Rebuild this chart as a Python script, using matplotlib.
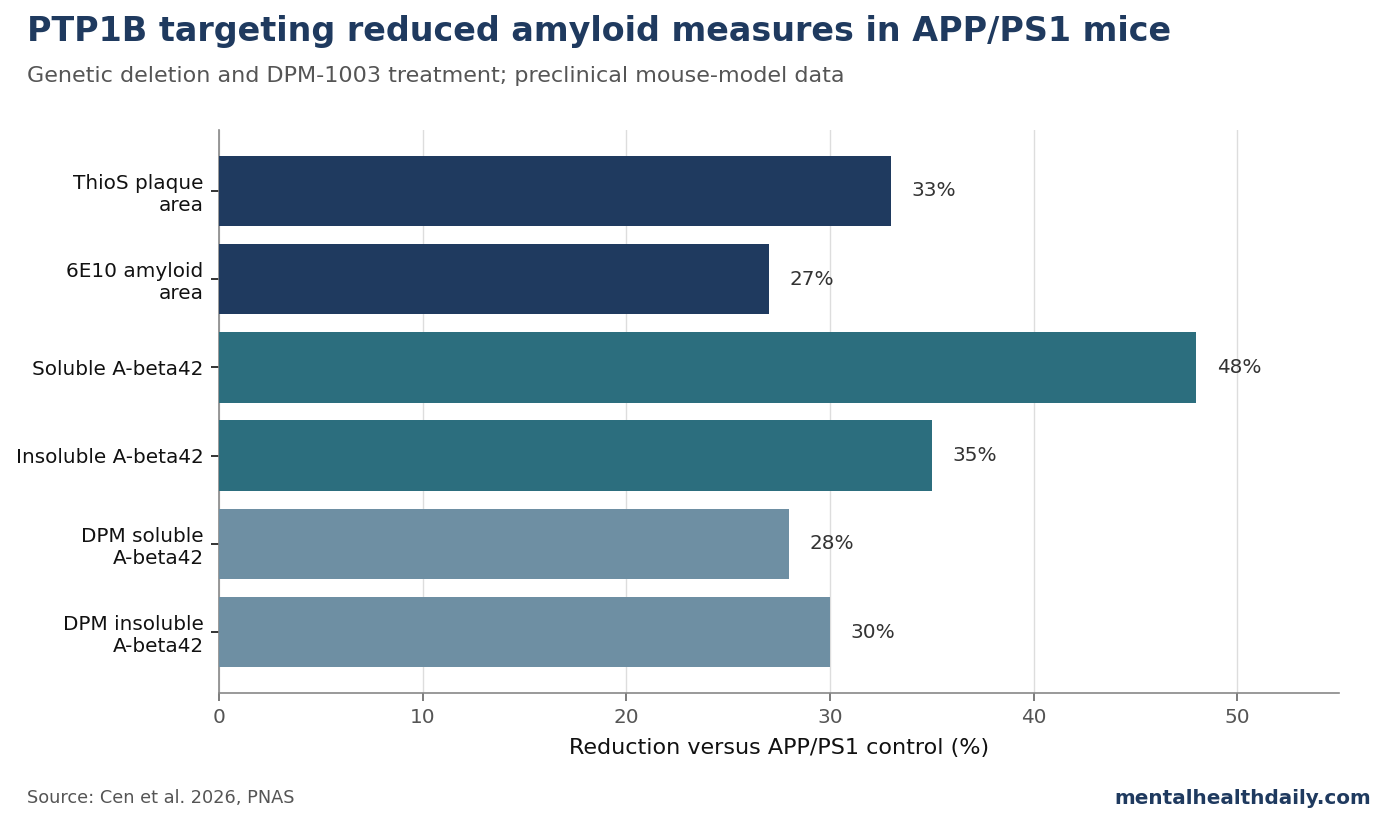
import matplotlib
matplotlib.use("Agg")
import matplotlib.pyplot as plt

categories = ["ThioS plaque\narea", "6E10 amyloid\narea", "Soluble A-beta42",
              "Insoluble A-beta42", "DPM soluble\nA-beta42", "DPM insoluble\nA-beta42"]
values = [33, 27, 48, 35, 28, 30]
colors = ["#1f3a5f", "#1f3a5f", "#2c6e7e", "#2c6e7e", "#6e8fa3", "#6e8fa3"]
xticks = [0, 10, 20, 30, 40, 50]

fig = plt.figure(figsize=(13.87, 8.23), dpi=100)
ax = fig.add_axes([219/1387, 1-693/823, (1339-219)/1387, (693-130)/823])

y = list(range(len(categories)))
ax.barh(y, values, height=0.8, color=colors, zorder=3)
for yi, v in zip(y, values):
    ax.text(v + 1, yi, f"{v}%", va="center", ha="left", fontsize=14.4, color="#333333")

ax.set_ylim(len(categories) - 0.31, -0.69)
ax.set_xlim(0, 55)
ax.set_yticks(y)
ax.set_yticklabels(categories, fontsize=14.4, color="#111111")
ax.set_xticks(xticks)
ax.tick_params(axis="x", labelsize=14.4, labelcolor="#555555", color="#666666",
               length=6, width=1.2, pad=5)
ax.tick_params(axis="y", length=6, width=1.2, color="#111111", pad=5)
ax.grid(axis="x", color="#dddddd", linewidth=1, zorder=0)
ax.set_axisbelow(True)
for s in ["top", "right"]:
    ax.spines[s].set_visible(False)
for s in ["left", "bottom"]:
    ax.spines[s].set_color("#888888")
    ax.spines[s].set_linewidth(1.2)
ax.set_xlabel("Reduction versus APP/PS1 control (%)", fontsize=16, color="#111111", labelpad=8)

fig.text(27/1387, 1-32/823, "PTP1B targeting reduced amyloid measures in APP/PS1 mice",
         fontsize=24, fontweight="bold", color="#1f3a5f", va="center", ha="left")
fig.text(27/1387, 1-76/823, "Genetic deletion and DPM-1003 treatment; preclinical mouse-model data",
         fontsize=16, color="#555555", va="center", ha="left")
fig.text(27/1387, 1-798/823, "Source: Cen et al. 2026, PNAS", fontsize=12.8, color="#555555",
         va="center", ha="left")
fig.text(1371/1387, 1-798/823, "mentalhealthdaily.com", fontsize=14.4, fontweight="bold",
         color="#1f3a5f", va="center", ha="right")

fig.savefig("out.png", dpi=100)
